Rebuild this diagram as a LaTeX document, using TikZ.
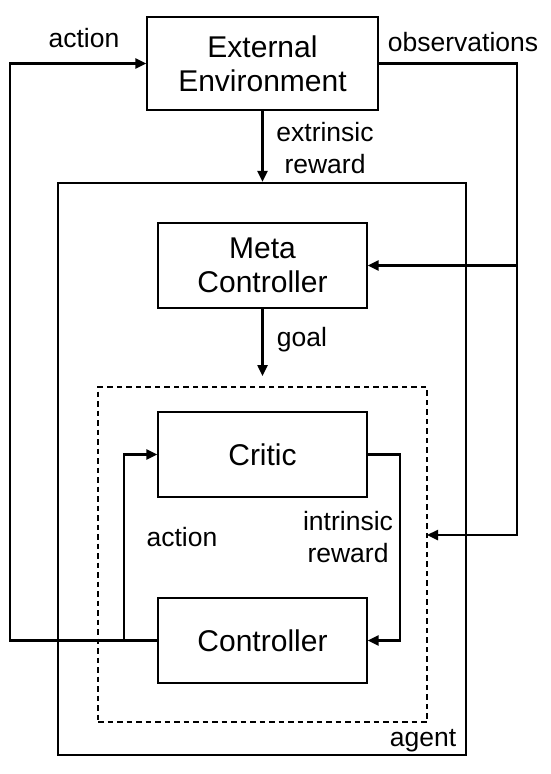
\documentclass[tikz,border=0pt]{standalone}
\usepackage{fontspec}
\setmainfont{Liberation Sans}
\usetikzlibrary{arrows.meta}
\begin{document}
\begin{tikzpicture}[x=1pt,y=-1pt,
  box/.style={draw,line width=1.2pt,minimum width=209pt,minimum height=85pt,inner sep=0pt,font=\fontsize{30}{34}\selectfont,align=center},
  lbl/.style={inner sep=0pt,font=\fontsize{26.5}{32}\selectfont,align=center},
  conn/.style={line width=2.4pt},
  arr/.style={conn,-{Triangle[length=11pt,width=10pt]}}]
\useasboundingbox (0,0) rectangle (550,774);
\fill[white] (0,0) rectangle (550,774);
% frames
\node[draw,line width=2.4pt,minimum width=408pt,minimum height=572pt,inner sep=0pt] (agent) at (262,469) {};
\node[draw,line width=2.4pt,dash pattern=on 5.5pt off 4pt,minimum width=329pt,minimum height=335pt,inner sep=0pt] (dash) at (262.5,554.5) {};
% boxes
\node[box,minimum width=231pt,minimum height=93pt] (env) at (262.5,63.5) {External\\Environment};
\node[box] (meta) at (262.5,265.5) {Meta\\Controller};
\node[box] (critic) at (262.5,454.5) {Critic};
\node[box] (ctrl) at (262.5,640.5) {Controller};
% coordinates
\coordinate (oL) at (10,0);
\coordinate (ia) at (124,0);
\coordinate (ob) at (517,535);
\coordinate (oin) at (427,535);
\coordinate (ir) at (400,0);
\coordinate (goaltip) at (262.5,376);
% connectors
\draw[arr] (ctrl.west) -- (ctrl.west -| oL) |- (env.west);
\draw[arr] (ctrl.west -| ia) |- (critic.west);
\draw[arr] (env.east) -| (ob) -- (oin);
\draw[arr] (meta.east -| ob) -- (meta.east);
\draw[arr] (env.south) -- (env.south |- agent.north);
\draw[arr] (meta.south) -- (goaltip);
\draw[arr] (critic.east) -- (critic.east -| ir) |- (ctrl.east);
% labels
\node[lbl] (l1) at (84,38) {action};
\node[lbl] (l2) at (463,42) {observations};
\node[lbl] (l3) at (325,148) {extrinsic\\reward};
\node[lbl] (l4) at (302,340) {goal};
\node[lbl] (l5) at (182,537) {action};
\node[lbl] (l6) at (348,537) {intrinsic\\reward};
\node[lbl] (l7) at (423,741) {agent};
\end{tikzpicture}
\end{document}
